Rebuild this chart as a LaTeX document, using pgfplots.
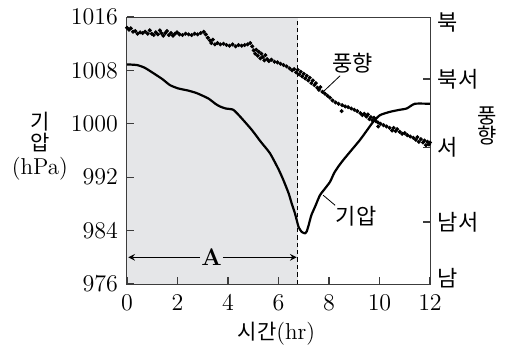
\documentclass[border=0pt]{standalone}
\usepackage{pgfplots}
\pgfplotsset{compat=1.18}
\usepackage{fontspec}
\newfontfamily\kr{Noto Sans CJK KR}
\definecolor{bgshade}{RGB}{229,230,232}
\definecolor{axc}{RGB}{60,60,60}
\begin{document}
\begin{tikzpicture}[font=\fontsize{11.5}{13}\selectfont]
\useasboundingbox (-63.5pt,-33pt) rectangle (191pt,142pt);
\begin{axis}[
  at={(0,0)}, anchor=south west,
  scale only axis, width=151.5pt, height=133.5pt,
  xmin=0, xmax=12, ymin=976, ymax=1016,
  xtick={0,2,4,6,8,10,12}, ytick={976,984,992,1000,1008,1016},
  /pgf/number format/1000 sep={},
  tick align=inside, major tick length=3.5pt,
  xtick pos=bottom, ytick pos=left,
  axis line style={axc, line width=0.5pt},
  tick style={axc, line width=0.6pt},
  xticklabel style={yshift=-2pt},
  yticklabel style={xshift=-1pt},
  clip=false, axis on top,
]
\fill[bgshade] (axis cs:0,976) rectangle (axis cs:6.76,1016);
\draw[black, line width=0.5pt, dash pattern=on 2.2pt off 1.5pt] (axis cs:6.76,976) -- (axis cs:6.76,1016);
% pressure
\addplot[black, line width=1.1pt, smooth, tension=0.35] coordinates {
(0,1008.9)(0.4,1008.8)(0.7,1008.4)(1.04,1007.6)(1.4,1006.7)(1.70,1005.8)(2.03,1005.3)
(2.4,1005.0)(2.76,1004.6)(3.22,1003.8)(3.5,1003.0)(3.68,1002.6)(3.9,1002.3)(4.21,1002.1)
(4.5,1001.0)(4.94,999.1)(5.3,997.3)(5.66,995.6)(6.0,993.2)(6.19,991.6)(6.4,989.6)
(6.52,988.1)(6.65,986.6)(6.72,985.6)(6.8,984.5)(6.92,983.8)(7.05,983.6)(7.12,983.9)
(7.2,984.9)(7.3,986.3)(7.45,987.6)(7.64,989.3)(7.8,990.1)(8.04,991.3)(8.2,992.6)
(8.37,993.6)(8.57,994.6)(8.9,996.1)(9.23,997.6)(9.5,999.0)(9.75,1000.3)(10.02,1001.3)
(10.42,1001.8)(10.8,1002.1)(11.08,1002.3)(11.4,1003.0)(12,1003.0)};
% wind direction
\addplot[only marks, mark=*, mark size=0.8pt, black] coordinates {
(0.00,1014.4)(0.08,1014.1)(0.15,1014.3)(0.24,1013.8)(0.33,1013.9)(0.42,1013.5)(0.52,1013.7)
(0.62,1013.6)(0.72,1013.8)(0.82,1013.5)(0.90,1014.0)(0.98,1013.5)(1.06,1013.3)(1.14,1013.7)
(1.22,1013.4)(1.30,1014.0)(1.36,1013.6)(1.44,1013.2)(1.52,1013.6)(1.58,1013.9)(1.66,1013.3)
(1.74,1013.6)(1.82,1013.2)(1.90,1013.5)(1.98,1013.7)(2.08,1013.4)(2.20,1013.3)(2.32,1013.5)
(2.44,1013.4)(2.56,1013.3)(2.68,1013.5)(2.80,1013.4)(2.92,1013.6)(3.04,1013.8)(3.12,1013.4)
(3.20,1012.9)(3.28,1012.5)(3.34,1012.1)(3.40,1012.6)(3.48,1011.9)(3.58,1012.1)(3.70,1011.9)
(3.82,1012.0)(3.94,1011.8)(4.06,1011.7)(4.18,1011.9)(4.30,1011.6)(4.42,1011.8)(4.54,1011.7)
(4.66,1011.8)(4.78,1011.9)(4.88,1012.1)(4.96,1011.6)(5.02,1011.0)(5.08,1010.5)(5.12,1011.1)
(5.18,1010.2)(5.22,1010.8)(5.28,1009.8)(5.32,1010.5)(5.38,1010.0)(5.44,1009.5)(5.48,1010.3)
(5.55,1009.7)(5.62,1009.4)(5.72,1009.6)(5.84,1009.3)(5.96,1009.2)(6.08,1009.0)(6.20,1008.8)
(6.32,1008.6)(6.44,1008.3)(6.54,1008.0)(6.62,1008.2)(6.70,1007.7)(6.76,1008.1)(6.82,1007.4)
(6.88,1007.8)(6.94,1007.1)(7.00,1007.5)(7.06,1006.8)(7.12,1007.2)(7.18,1006.5)(7.24,1006.9)
(7.30,1006.1)(7.36,1006.5)(7.42,1005.8)(7.48,1006.1)(7.54,1005.4)(7.60,1005.1)(7.66,1005.5)
(7.74,1004.8)(7.84,1004.5)(7.94,1004.2)(8.04,1003.9)(8.14,1003.5)(8.26,1003.2)(8.38,1003.0)
(8.50,1001.9)(8.52,1002.8)(8.64,1002.6)(8.76,1002.5)(8.88,1002.3)(9.00,1002.1)(9.12,1001.9)
(9.24,1001.6)(9.32,1001.3)(9.40,1001.5)(9.48,1001.1)(9.54,1001.4)(9.60,1000.7)(9.66,1001.0)
(9.72,1000.5)(9.78,1000.9)(9.95,999.6)(9.86,1000.4)(9.94,1000.2)(10.04,1000.0)(10.16,999.8)
(10.28,999.6)(10.40,999.4)(10.50,999.0)(10.56,999.4)(10.64,998.9)(10.70,999.2)(10.80,998.8)
(10.90,998.5)(11.00,998.6)(11.10,998.3)(11.22,998.1)(11.34,997.9)(11.44,997.6)(11.50,998.0)
(11.56,997.3)(11.64,997.7)(11.72,997.2)(11.78,997.5)(11.84,996.8)(11.90,997.3)(11.96,996.9)
(12.00,997.2)};
% arrow A
\draw[-stealth, line width=0.5pt] (axis cs:2.9,980) -- (axis cs:0.05,980);
\draw[-stealth, line width=0.5pt] (axis cs:3.8,980) -- (axis cs:6.72,980);
\node[font=\fontsize{12}{13}\selectfont\bfseries] at (axis cs:3.35,980) {A};
% annotations
\draw[line width=0.4pt] (axis cs:8.44,1007.2) -- (axis cs:7.77,1004.8);
\node[font=\kr\fontsize{11}{12}\selectfont] at (axis cs:8.93,1009.1) {풍향};
\draw[line width=0.4pt] (axis cs:7.77,989.3) -- (axis cs:8.24,987.8);
\node[font=\kr\fontsize{11}{12}\selectfont] at (axis cs:9.07,986.2) {기압};
% right axis
\draw[axc, line width=0.6pt] (axis cs:12,1006.7) -- (axis cs:11.72,1006.7);
\draw[axc, line width=0.6pt] (axis cs:12,996.5) -- (axis cs:11.72,996.5);
\draw[axc, line width=0.6pt] (axis cs:12,985.3) -- (axis cs:11.72,985.3);
\node[anchor=west, font=\kr\fontsize{11}{12}\selectfont, inner sep=0pt] at (axis cs:12.3,1015.2) {북};
\node[anchor=west, font=\kr\fontsize{11}{12}\selectfont, inner sep=0pt] at (axis cs:12.3,1006.6) {북서};
\node[anchor=west, font=\kr\fontsize{11}{12}\selectfont, inner sep=0pt] at (axis cs:12.3,996.5) {서};
\node[anchor=west, font=\kr\fontsize{11}{12}\selectfont, inner sep=0pt] at (axis cs:12.3,985.3) {남서};
\node[anchor=west, font=\kr\fontsize{11}{12}\selectfont, inner sep=0pt] at (axis cs:12.3,976.9) {남};
\node[font=\kr\fontsize{10.5}{10.5}\selectfont, inner sep=0pt] at (axis cs:14.26,1001.2) {풍};
\node[font=\kr\fontsize{10.5}{10.5}\selectfont, inner sep=0pt] at (axis cs:14.26,998.2) {향};
% left label
\node[font=\kr\fontsize{10.5}{11}\selectfont, inner sep=0pt] at (axis cs:-3.45,1000.3) {기};
\node[font=\kr\fontsize{10.5}{11}\selectfont, inner sep=0pt] at (axis cs:-3.45,997.2) {압};
\node[font=\fontsize{11.5}{12}\selectfont, inner sep=0pt] at (axis cs:-3.45,993.2) {(hPa)};
% x label
\node[font=\fontsize{11.5}{13}\selectfont] at (axis cs:5.92,968.5) {{\kr\fontsize{10.5}{13}\selectfont 시간}(hr)};
\end{axis}
\end{tikzpicture}
\end{document}
